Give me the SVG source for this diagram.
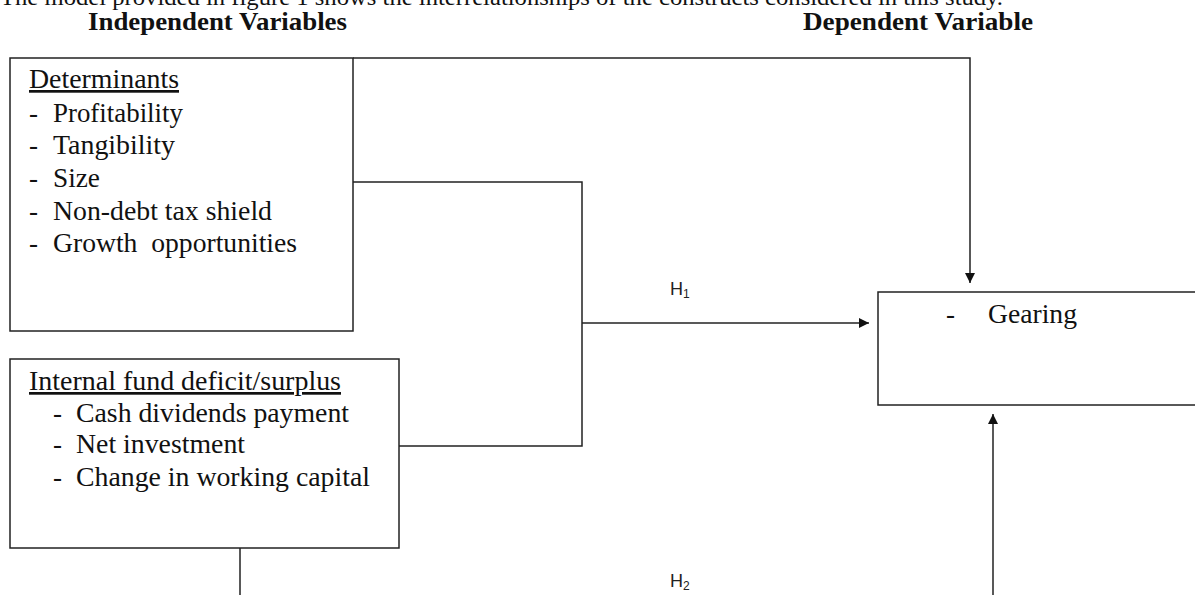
<svg xmlns="http://www.w3.org/2000/svg" width="1195" height="595" viewBox="0 0 1195 595">
<style>
.serif{font-family:"Liberation Serif","Times New Roman",serif;fill:#111;}
.body{font-size:27px;}
.head{font-size:25px;font-weight:bold;}
.h{font-family:"Liberation Sans",Arial,sans-serif;font-size:18px;fill:#222;}
.box{fill:#fff;stroke:#222;stroke-width:1.5;}
.conn{fill:none;stroke:#222;stroke-width:1.5;}
</style>
<defs>
<marker id="arr" viewBox="0 0 10 10" refX="10" refY="5" markerWidth="11" markerHeight="10" markerUnits="userSpaceOnUse" orient="auto">
<path d="M0,0 L10,5 L0,10 Z" fill="#111"/>
</marker>
</defs>
<rect width="1195" height="595" fill="#fff"/>
<text class="serif" x="0" y="5" font-size="24" textLength="1003" lengthAdjust="spacingAndGlyphs">The model provided in figure 1 shows the interrelationships of the constructs considered in this study.</text>
<text class="serif head" x="88" y="30" textLength="259" lengthAdjust="spacingAndGlyphs">Independent Variables</text>
<text class="serif head" x="803" y="30" textLength="230" lengthAdjust="spacingAndGlyphs">Dependent Variable</text>
<g id="connectors">
<path class="conn" d="M353,58 H970 V283" marker-end="url(#arr)"/>
<path class="conn" d="M353,182 H582 V446 H399"/>
<path class="conn" d="M582,323 H869" marker-end="url(#arr)"/>
<path class="conn" d="M240,548 V600"/>
<path class="conn" d="M993,600 V414" marker-end="url(#arr)"/>
<text class="h" x="670" y="295">H<tspan font-size="12" dy="3">1</tspan></text>
<text class="h" x="670" y="587">H<tspan font-size="12" dy="3">2</tspan></text>
</g>
<g id="determinants">
<rect class="box" x="10" y="58" width="343" height="273"/>
<text class="serif body" x="29" y="88" text-decoration="underline" textLength="150" lengthAdjust="spacingAndGlyphs">Determinants</text>
<text class="serif body" x="29" y="122">-</text>
<text class="serif body" x="53" y="122" textLength="130" lengthAdjust="spacingAndGlyphs">Profitability</text>
<text class="serif body" x="29" y="154">-</text>
<text class="serif body" x="53" y="154" textLength="122" lengthAdjust="spacingAndGlyphs">Tangibility</text>
<text class="serif body" x="29" y="187">-</text>
<text class="serif body" x="53" y="187" textLength="47" lengthAdjust="spacingAndGlyphs">Size</text>
<text class="serif body" x="29" y="220">-</text>
<text class="serif body" x="53" y="220" textLength="219" lengthAdjust="spacingAndGlyphs">Non-debt tax shield</text>
<text class="serif body" x="29" y="252">-</text>
<text class="serif body" x="53" y="252" textLength="244" lengthAdjust="spacingAndGlyphs" xml:space="preserve">Growth  opportunities</text>
</g>
<g id="internal-fund">
<rect class="box" x="10" y="359" width="389" height="189"/>
<text class="serif body" x="29" y="390" text-decoration="underline" textLength="312" lengthAdjust="spacingAndGlyphs">Internal fund deficit/surplus</text>
<text class="serif body" x="53" y="422">-</text>
<text class="serif body" x="76" y="422" textLength="273" lengthAdjust="spacingAndGlyphs">Cash dividends payment</text>
<text class="serif body" x="53" y="453">-</text>
<text class="serif body" x="76" y="453" textLength="169" lengthAdjust="spacingAndGlyphs">Net investment</text>
<text class="serif body" x="53" y="486">-</text>
<text class="serif body" x="76" y="486" textLength="294" lengthAdjust="spacingAndGlyphs">Change in working capital</text>
</g>
<g id="gearing">
<rect class="box" x="878" y="292" width="330" height="113"/>
<text class="serif body" x="946" y="323">-</text>
<text class="serif body" x="988" y="323" textLength="89" lengthAdjust="spacingAndGlyphs">Gearing</text>
</g>
</svg>
